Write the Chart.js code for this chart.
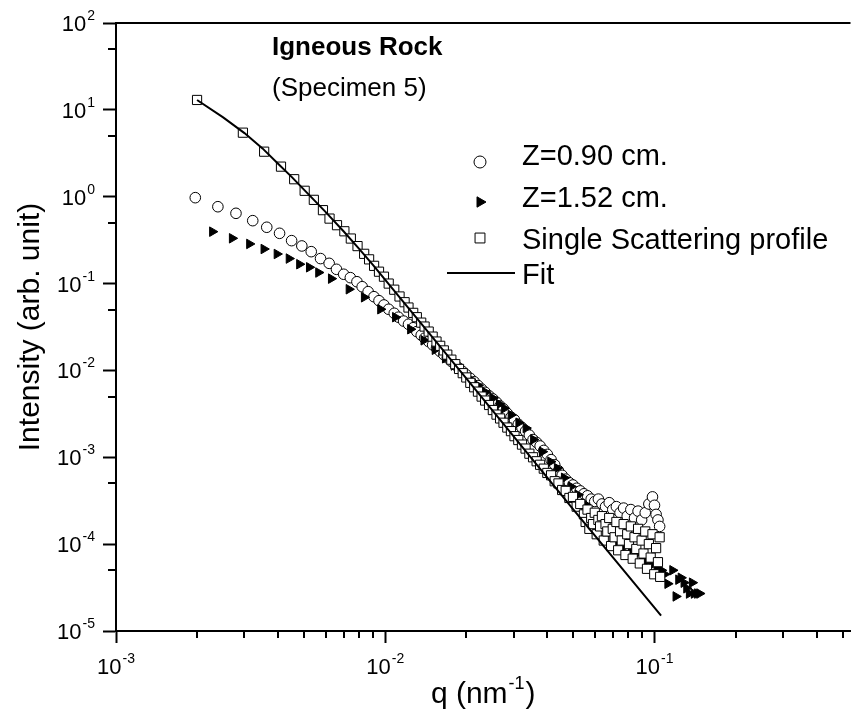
<!DOCTYPE html>
<html>
<head>
<meta charset="utf-8">
<script src="https://cdn.jsdelivr.net/npm/chart.js@4.4.0/dist/chart.umd.min.js"></script>
<style>html,body{margin:0;padding:0;background:#fff;}canvas{display:block;}</style>
</head>
<body>
<canvas id="c" width="858" height="715"></canvas>
<script>
// ---------- axis ticks ----------
const xRange = [1e-3, 0.5346];
const yRange = [1e-5, 1e2];
const xMajorTicks = [1e-3, 1e-2, 1e-1];
const xMinorTicks = [2e-3,3e-3,4e-3,5e-3,6e-3,7e-3,8e-3,9e-3,2e-2,3e-2,4e-2,5e-2,6e-2,7e-2,8e-2,9e-2,0.2,0.3,0.4,0.5];
const yMajorTicks = [1e-5,1e-4,1e-3,1e-2,1e-1,1,10,100];
const yMinorTicks = [5e-5,5e-4,5e-3,5e-2,0.5,5,50];

// ---------- text ----------
const seriesLabels = ['Z=0.90 cm.', 'Z=1.52 cm.', 'Single Scattering profile', 'Fit'];
const titleLines = ['Igneous Rock', '(Specimen 5)'];
const yTitle = 'Intensity (arb. unit)';
const xTitleParts = ['q (nm', '-1', ')'];

// ---------- Z = 0.90 cm (open circles) ----------
const circleQ = [0.00197,0.00239,0.00279,0.00322,0.00363,0.00405,0.00449,0.0049,0.00531,0.00575,0.00619,0.00659,0.00701,0.00742,0.00785,0.00821,0.00864,0.00908,0.00948,0.00989,
0.0103,0.0108,0.0112,0.0117,0.0122,0.0127,0.0131,0.0136,0.0140,0.0145,0.0150,0.0155,0.0160,0.0165,0.0170,0.0176,0.0182,0.0188,0.0194,0.0200,
0.0207,0.0214,0.0221,0.0228,0.0235,0.0243,0.0251,0.0259,0.0267,0.0275,0.0284,0.0293,0.0302,0.0312,0.0322,0.0332,0.0343,0.0354,0.0365,0.0376,
0.0388,0.0400,0.0413,0.0426,0.0440,0.0454,0.0468,0.0483,0.0498,0.0514,0.0530,0.0547,0.0564,0.0582,0.0600,0.0619,0.0638,0.0658,0.0679,0.0700,
0.0722,0.0745,0.0768,0.0792,0.0817,0.0843,0.0869,0.0896,0.0924,0.0953,0.0983,0.1000,0.1014,0.1030,0.1045];
const circleI = [0.975,0.767,0.644,0.53,0.445,0.379,0.312,0.271,0.233,0.194,0.171,0.146,0.128,0.117,0.105,0.092,0.0807,0.0706,0.0635,0.0567,
0.0506,0.0455,0.041,0.037,0.034,0.031,0.028,0.0255,0.0235,0.0215,0.0197,0.0180,0.0165,0.0152,0.0140,0.0127,0.0116,0.0106,0.0097,0.0089,
0.0081,0.0074,0.0067,0.0061,0.0056,0.0051,0.0047,0.0043,0.0039,0.0036,0.0032,0.0029,0.0027,0.0024,0.0022,0.0020,0.0018,0.0016,0.00148,0.00135,
0.00120,0.00108,0.00094,0.00082,0.00070,0.00062,0.00056,0.00051,0.00048,0.00044,0.00041,0.00038,0.00036,0.00033,0.00031,0.00033,0.00029,0.00027,0.00030,0.00025,
0.00027,0.00023,0.00026,0.00021,0.00025,0.00020,0.00024,0.00019,0.00023,0.00029,0.00035,0.00028,0.00022,0.00019,0.00016];

// ---------- Z = 1.52 cm (filled right triangles) ----------
const triQ = [0.00228,0.0027,0.00313,0.00354,0.00396,0.00439,0.0048,0.00522,0.00565,0.0063,0.00733,0.00835,0.0096,0.0109,0.0124,
0.0139,0.0153,0.0167,0.0180,0.0193,0.0207,0.0221,0.0236,0.0251,0.0265,0.0277,0.0293,0.0313,0.0333,0.0355,0.0383,0.0411,0.0435,0.0462,0.0490,
0.0520,0.0550,0.0580,0.0610,0.0640,0.0670,0.0700,0.0740,0.0780,0.0820,0.0860,0.0900,0.0940,0.0980,0.1020,0.1060,0.1090,
0.1119,0.1167,0.1200,0.1228,0.1254,0.1285,0.1315,0.1345,0.1380,0.1403,0.1443,0.1470];
const triI = [0.396,0.332,0.286,0.25,0.219,0.194,0.167,0.154,0.134,0.114,0.086,0.0695,0.0506,0.041,0.0298,
0.0222,0.0173,0.0138,0.0114,0.0095,0.0079,0.0067,0.0056,0.0048,0.0041,0.00366,0.00307,0.0025,0.00217,0.0016,0.00116,0.00089,0.00075,0.00058,0.00046,
0.00037,0.00029,0.00023,0.00019,0.00016,0.00014,0.00012,0.00011,0.000095,0.000085,0.000078,0.000070,0.000064,0.000058,0.000054,0.000050,0.000045,
0.000035,0.000050,0.000025,0.000039,0.000041,0.000036,0.000031,0.000027,0.000036,0.000027,0.000027,0.000027];

// ---------- Single scattering profile (open squares) ----------
const sqQ = [0.00200,0.00296,0.00355,0.00410,0.00459,0.00502,0.00543,0.00587,0.00621,0.00662,0.00705,0.00745,0.00789,0.00835,0.00871,0.00909,0.00948,0.00989,
0.0103,0.0108,0.0113,0.0118,0.0122,0.0127,0.0131,0.0136,0.0140,0.0145,0.0150,0.0155,0.0160,0.0165,0.0170,0.0176,0.0182,0.0188,0.0194,0.0200,
0.0207,0.0214,0.0221,0.0228,0.0235,0.0243,0.0251,0.0259,0.0267,0.0275,0.0284,0.0293,0.0302,0.0312,0.0322,0.0332,0.0343,0.0354,0.0365,0.0376,
0.0388,0.0400,0.0413,0.0426,0.0440,0.0454,0.0468,0.0483,0.0498,0.0514,0.0530,0.0547,0.0555,0.0564,0.0573,0.0582,0.0591,0.0600,0.0610,0.0619,
0.0628,0.0638,0.0648,0.0658,0.0668,0.0679,0.0690,0.0700,0.0711,0.0722,0.0733,0.0745,0.0756,0.0768,0.0780,0.0792,0.0804,0.0817,0.0830,0.0843,
0.0856,0.0869,0.0882,0.0896,0.0910,0.0924,0.0938,0.0953,0.0968,0.0983,0.0998,0.1014,0.1030,0.1045,0.1050];
const sqI = [13.0,5.46,3.30,2.22,1.59,1.17,0.92,0.70,0.56,0.47,0.40,0.33,0.27,0.22,0.19,0.16,0.137,0.12,
0.100,0.085,0.071,0.061,0.053,0.046,0.041,0.0355,0.032,0.028,0.0245,0.0215,0.0192,0.0170,0.0152,0.0133,0.0118,0.0104,0.0093,0.0083,
0.0072,0.0064,0.0057,0.0050,0.0045,0.0040,0.0035,0.0031,0.0028,0.0025,0.0022,0.0020,0.00175,0.00158,0.00140,0.00126,0.00110,0.00100,0.00090,0.00082,
0.00074,0.00066,0.00062,0.00053,0.00050,0.00042,0.00041,0.00034,0.00035,0.00027,0.00029,0.00022,0.00018,0.00025,0.00015,0.00020,0.00017,0.00023,0.00013,0.00019,
0.00016,0.00021,0.00011,0.00017,0.00014,0.00020,0.000095,0.00015,0.00012,0.00018,0.000085,0.00014,0.00011,0.00017,0.000075,0.00013,0.00010,0.00016,0.000068,0.00012,
0.000088,0.00015,0.000060,0.00011,0.000078,0.00014,0.000052,0.00010,0.00007,0.00013,0.000045,0.00009,0.000062,0.00012,0.000042];

// ---------- Fit ----------
const fitQ = [0.002,0.0025,0.003,0.0035,0.004,0.0045,0.005,0.006,0.007,0.008,0.009,0.01,0.02,0.05,0.1058];
const fitI = [13,8.2,5.4,3.6,2.4,1.68,1.2,0.67,0.40,0.251,0.164,0.11,0.0081,0.00025,0.000015];

const pts = (qs, is) => qs.map((q, i) => ({x: q, y: is[i]}));
const FONT = '"Liberation Sans", Arial, Helvetica, sans-serif';

const legendMarkers = [
  {pointStyle: 'circle', radius: 6, rotation: 0, fill: '#ffffff'},
  {pointStyle: 'triangle', radius: 6, rotation: 90, fill: '#000000'},
  {pointStyle: 'rect', radius: 7, rotation: 0, fill: '#ffffff'}
];

function drawPow(ctx, exp, x, y, align) {
  ctx.font = '22px ' + FONT;
  const wb = ctx.measureText('10').width;
  ctx.font = '14px ' + FONT;
  const sup = String(exp);
  const ws = ctx.measureText(sup).width;
  const total = wb + 1 + ws;
  const x0 = align === 'center' ? x - total / 2 : x - total;
  ctx.textAlign = 'left';
  ctx.textBaseline = 'alphabetic';
  ctx.font = '22px ' + FONT;
  ctx.fillText('10', x0, y);
  ctx.font = '14px ' + FONT;
  ctx.fillText(sup, x0 + wb + 1, y - 11);
}

const decor = {
  id: 'decor',
  afterDraw(chart) {
    const ctx = chart.ctx, xs = chart.scales.x, ys = chart.scales.y, ca = chart.chartArea;
    ctx.save();
    ctx.strokeStyle = '#000';
    ctx.fillStyle = '#000';
    ctx.lineWidth = 2;
    // top frame line
    ctx.beginPath(); ctx.moveTo(ca.left - 1, ca.top); ctx.lineTo(ca.right, ca.top); ctx.stroke();
    // minor ticks
    ctx.beginPath();
    xMinorTicks.forEach(v => { const p = Math.round(xs.getPixelForValue(v)); ctx.moveTo(p, ca.bottom); ctx.lineTo(p, ca.bottom + 7); });
    yMinorTicks.forEach(v => { const p = Math.round(ys.getPixelForValue(v)); ctx.moveTo(ca.left, p); ctx.lineTo(ca.left - 8, p); });
    ctx.stroke();
    // tick labels
    xMajorTicks.forEach(v => drawPow(ctx, Math.round(Math.log10(v)), xs.getPixelForValue(v), ca.bottom + 43, 'center'));
    yMajorTicks.forEach(v => drawPow(ctx, Math.round(Math.log10(v)), ca.left - 21, ys.getPixelForValue(v) + 8, 'right'));
    // axis titles
    ctx.font = '30px ' + FONT;
    ctx.textBaseline = 'middle';
    ctx.textAlign = 'center';
    ctx.save();
    ctx.translate(31, (ca.top + ca.bottom) / 2);
    ctx.rotate(-Math.PI / 2);
    ctx.fillText(yTitle, 0, 0);
    ctx.restore();
    ctx.textBaseline = 'alphabetic';
    ctx.textAlign = 'left';
    ctx.font = '30px ' + FONT;
    const w1 = ctx.measureText(xTitleParts[0]).width;
    const w3 = ctx.measureText(xTitleParts[2]).width;
    ctx.font = '18px ' + FONT;
    const w2 = ctx.measureText(xTitleParts[1]).width;
    let tx = (ca.left + ca.right) / 2 - (w1 + w2 + w3 + 2) / 2;
    const ty = 703;
    ctx.font = '30px ' + FONT; ctx.fillText(xTitleParts[0], tx, ty);
    ctx.font = '18px ' + FONT; ctx.fillText(xTitleParts[1], tx + w1 + 1, ty - 14);
    ctx.font = '30px ' + FONT; ctx.fillText(xTitleParts[2], tx + w1 + w2 + 2, ty);
    // annotation
    ctx.font = 'bold 26px ' + FONT;
    ctx.fillText(titleLines[0], 272, 55);
    ctx.font = '26px ' + FONT;
    ctx.fillText(titleLines[1], 272, 96);
    // legend
    const textBase = [165, 207, 249, 284];
    const markY = [162, 202, 238, 273];
    const mx = 480, tx0 = 522;
    ctx.font = '29px ' + FONT;
    for (let i = 0; i < 3; i++) {
      const s = legendMarkers[i];
      ctx.fillStyle = s.fill;
      ctx.strokeStyle = '#000';
      ctx.lineWidth = 1;
      Chart.helpers.drawPoint(ctx, {pointStyle: s.pointStyle, radius: s.radius, rotation: s.rotation, borderWidth: 1}, mx, markY[i]);
      ctx.fillStyle = '#000';
      ctx.fillText(seriesLabels[i], tx0, textBase[i]);
    }
    ctx.lineWidth = 2;
    ctx.beginPath(); ctx.moveTo(447, markY[3]); ctx.lineTo(515, markY[3]); ctx.stroke();
    ctx.fillText(seriesLabels[3], tx0, textBase[3]);
    ctx.restore();
  }
};

new Chart(document.getElementById('c'), {
  type: 'scatter',
  data: {
    datasets: [
      {label: seriesLabels[3], data: pts(fitQ, fitI), showLine: true, borderColor: '#000', borderWidth: 2, pointRadius: 0, fill: false, order: 0},
      {label: seriesLabels[2], data: pts(sqQ, sqI), pointStyle: 'rect', pointRadius: 6.5, backgroundColor: '#fff', borderColor: '#000', borderWidth: 1, order: 1},
      {label: seriesLabels[1], data: pts(triQ, triI), pointStyle: 'triangle', pointRotation: 90, pointRadius: 5.5, backgroundColor: '#000', borderColor: '#000', borderWidth: 1, order: 2},
      {label: seriesLabels[0], data: pts(circleQ, circleI), pointStyle: 'circle', pointRadius: 5.3, backgroundColor: '#fff', borderColor: '#000', borderWidth: 1, order: 3}
    ]
  },
  options: {
    responsive: false,
    animation: false,
    devicePixelRatio: 1,
    layout: {padding: {top: 23, right: 0, bottom: 0, left: 0}},
    plugins: {legend: {display: false}, tooltip: {enabled: false}},
    events: [],
    scales: {
      x: {
        type: 'logarithmic', position: 'bottom', min: xRange[0], max: xRange[1],
        afterBuildTicks: s => { s.ticks = xMajorTicks.map(v => ({value: v})); },
        afterFit: s => { s.height = 84; },
        grid: {drawOnChartArea: false, drawTicks: true, tickLength: 12, tickWidth: 2, tickColor: '#000', color: '#000'},
        border: {display: true, color: '#000', width: 2},
        ticks: {display: false}
      },
      y: {
        type: 'logarithmic', position: 'left', min: yRange[0], max: yRange[1],
        afterBuildTicks: s => { s.ticks = yMajorTicks.map(v => ({value: v})); },
        afterFit: s => { s.width = 116; },
        grid: {drawOnChartArea: false, drawTicks: true, tickLength: 13, tickWidth: 2, tickColor: '#000', color: '#000'},
        border: {display: true, color: '#000', width: 2},
        ticks: {display: false}
      }
    }
  },
  plugins: [decor]
});
</script>
</body>
</html>
